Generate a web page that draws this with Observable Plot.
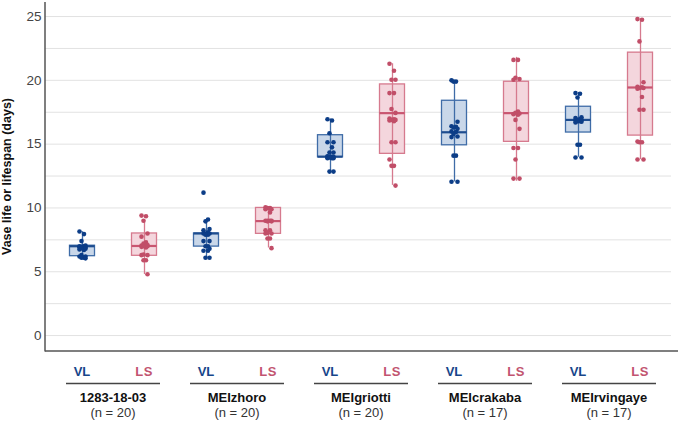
<!DOCTYPE html>
<html><head><meta charset="utf-8">
<script src="https://cdn.jsdelivr.net/npm/d3@7"></script>
<script src="https://cdn.jsdelivr.net/npm/@observablehq/plot@0.6"></script>
<style>body{margin:0;background:#fff;} svg{display:block}</style>
</head><body><div id="chart"></div>
<script>
const groups = ["1283-18-03", "MEIzhoro", "MEIgriotti", "MEIcrakaba", "MEIrvingaye"];
const groupN = [20, 20, 20, 17, 17];
const types = ["VL", "LS"];
const yTicks = [0, 5, 10, 15, 20, 25];
const yLabel = "Vase life or lifespan (days)";

// box statistics, order: group-major, VL then LS
const q1  = [6.22, 6.25, 6.97, 7.97, 13.97, 14.24, 14.91, 15.18, 15.91, 15.67];
const med = [7.0, 7.02, 8.0, 8.97, 14.02, 17.43, 15.93, 17.43, 16.9, 19.44];
const q3  = [7.04, 8.0, 8.0, 10.0, 15.7, 19.68, 18.4, 19.89, 17.93, 22.17];
const wlo = [6.07, 4.78, 6.1, 6.86, 12.85, 11.77, 12.04, 12.09, 13.97, 13.79];
const whi = [8.14, 9.0, 9.1, 10.05, 16.97, 21.3, 19.94, 21.8, 19.03, 24.78];

const pts_1283_VL = [8.15, 7.95, 7.4, 7.05, 7.0, 7.0, 6.95, 6.9, 6.9, 6.9, 6.85, 6.8, 6.75, 6.7, 6.3, 6.2, 6.2, 6.1, 6.1, 6.05];
const pts_1283_LS = [9.4, 9.35, 9.0, 8.0, 7.75, 7.3, 7.2, 7.1, 7.05, 7.0, 7.0, 7.0, 6.95, 6.9, 6.35, 6.3, 6.3, 5.9, 5.9, 4.8];
const pts_zhoro_VL = [11.2, 9.1, 8.95, 8.35, 8.25, 8.1, 8.0, 8.0, 8.0, 7.9, 7.9, 7.4, 7.4, 7.0, 7.0, 6.8, 6.65, 6.65, 6.1, 6.1];
const pts_zhoro_LS = [10.05, 10.0, 10.0, 9.9, 9.9, 9.65, 9.0, 9.0, 9.0, 9.0, 8.95, 8.95, 8.25, 8.25, 8.05, 8.0, 8.0, 7.6, 7.6, 6.85];
const pts_griotti_VL = [16.95, 16.85, 15.85, 15.15, 15.15, 14.75, 14.35, 14.35, 14.05, 14.0, 14.0, 14.0, 14.0, 13.95, 13.95, 13.9, 13.9, 13.9, 12.85, 12.85];
const pts_griotti_LS = [21.3, 20.75, 20.05, 20.05, 19.0, 19.0, 17.75, 17.45, 17.0, 16.95, 16.9, 16.9, 16.85, 16.8, 15.15, 15.15, 13.8, 13.3, 13.3, 11.75];
const pts_crakaba_VL = [20.0, 19.9, 19.9, 16.75, 16.4, 16.35, 16.3, 16.2, 16.0, 15.95, 15.8, 15.6, 15.55, 14.1, 14.1, 12.05, 12.05];
const pts_crakaba_LS = [21.6, 21.6, 20.2, 20.1, 20.05, 17.55, 17.45, 17.4, 17.35, 17.3, 16.9, 16.2, 14.7, 14.7, 13.8, 12.3, 12.3];
const pts_rvingaye_VL = [19.0, 18.95, 18.65, 17.1, 17.05, 16.95, 16.9, 16.9, 16.85, 16.8, 16.8, 16.75, 16.7, 14.95, 14.95, 13.95, 13.95];
const pts_rvingaye_LS = [24.8, 24.75, 23.05, 19.85, 19.5, 19.45, 19.4, 19.4, 19.35, 18.7, 17.7, 17.7, 15.2, 15.15, 15.15, 13.8, 13.8];

const pts = [pts_1283_VL, pts_1283_LS, pts_zhoro_VL, pts_zhoro_LS, pts_griotti_VL, pts_griotti_LS,
             pts_crakaba_VL, pts_crakaba_LS, pts_rvingaye_VL, pts_rvingaye_LS];

const keys = groups.flatMap(g => types.map(t => g + "|" + t));
const boxes = keys.map((k, i) => ({key: k, type: types[i % 2], q1: q1[i], med: med[i], q3: q3[i], wlo: wlo[i], whi: whi[i]}));
const points = keys.flatMap((k, i) => pts[i].map((v, j) => ({key: k, type: types[i % 2], v, j})));

const sty = {
  VL: {fill: "#c9d7e9", stroke: "#3f6ca7", med: "#1d4c8f", dot: "#0c3d87", text: "#17468a"},
  LS: {fill: "#f4d6dd", stroke: "#d67a8e", med: "#c95570", dot: "#c14e68", text: "#c25470"}
};

const marks = [
  Plot.ruleY(d3.range(0, 25.01, 2.5), {stroke: "#e2e2e2", strokeWidth: 1}),
  Plot.axisY({ticks: yTicks, tickSize: 0, tickPadding: 4, fontSize: 13.5, fill: "#444", label: null, tickFormat: d => d}),
];
for (const t of types) {
  const s = sty[t];
  const b = boxes.filter(d => d.type === t);
  marks.push(Plot.barY(b, {x: "key", y1: "q1", y2: "q3", fill: s.fill, stroke: s.stroke, strokeWidth: 1.3, insetLeft: 18.5, insetRight: 18.5}));
  marks.push(Plot.ruleX(b, {x: "key", y1: "wlo", y2: "whi", stroke: s.stroke, strokeWidth: 1.3}));
  marks.push(Plot.tickY(b, {x: "key", y: "med", stroke: s.med, strokeWidth: 2.2, insetLeft: 18.5, insetRight: 18.5}));
  const p = points.filter(d => d.type === t);
  [-3, 1.5, -1, 3].forEach((dx, m) => {
    marks.push(Plot.dot(p.filter(d => d.j % 4 === m), {x: "key", y: "v", r: 2.3, fill: s.dot, stroke: "none", dx}));
  });
}

const plot = Plot.plot({
  width: 678, height: 421,
  marginLeft: 45, marginRight: 7, marginTop: 2, marginBottom: 70,
  style: {fontFamily: "'Liberation Sans', Arial, sans-serif", fontSize: "13px", color: "#444", background: "#fff"},
  x: {domain: keys, range: [51, 671], padding: 0, axis: null},
  y: {domain: [-1.25, 26.1]},
  marks
});

const svg = d3.select(plot);
const xs = plot.scale("x");
const bw = xs.bandwidth || 0;
const cx = k => xs.apply(k) + bw / 2;
const yBottom = 421 - 70;

// axis lines
svg.append("line").attr("x1", 45).attr("x2", 45).attr("y1", 2).attr("y2", yBottom + 0.5)
  .attr("stroke", "#555").attr("stroke-width", 1.5);
svg.append("line").attr("x1", 45).attr("x2", 678).attr("y1", yBottom).attr("y2", yBottom)
  .attr("stroke", "#555").attr("stroke-width", 1.5);

// y label
svg.append("text").attr("transform", `translate(11,${(2 + yBottom) / 2}) rotate(-90)`)
  .attr("text-anchor", "middle").attr("font-weight", "bold").attr("font-size", 12.5)
  .attr("fill", "#111").attr("font-family", "'Liberation Sans', Arial, sans-serif").text(yLabel);

// bottom labels
const g = svg.append("g").attr("font-family", "'Liberation Sans', Arial, sans-serif").attr("font-size", 13).attr("text-anchor", "middle");
groups.forEach((grp, i) => {
  const kv = grp + "|VL", kl = grp + "|LS";
  const xv = cx(kv), xl = cx(kl), xm = (xv + xl) / 2;
  g.append("text").attr("x", xv).attr("y", yBottom + 25).attr("font-weight", "bold").attr("fill", sty.VL.text).text("VL");
  g.append("text").attr("x", xl).attr("y", yBottom + 25).attr("font-weight", "bold").attr("fill", sty.LS.text).attr("letter-spacing", 0.5).text("LS");
  g.append("line").attr("x1", xm - 47).attr("x2", xm + 47).attr("y1", yBottom + 32.5).attr("y2", yBottom + 32.5)
    .attr("stroke", "#444").attr("stroke-width", 1.5);
  g.append("text").attr("x", xm).attr("y", yBottom + 51).attr("font-weight", "bold").attr("fill", "#111").text(grp);
  g.append("text").attr("x", xm).attr("y", yBottom + 66).attr("fill", "#333").text(`(n = ${groupN[i]})`);
});

document.getElementById("chart").appendChild(plot);
</script>
</body></html>
